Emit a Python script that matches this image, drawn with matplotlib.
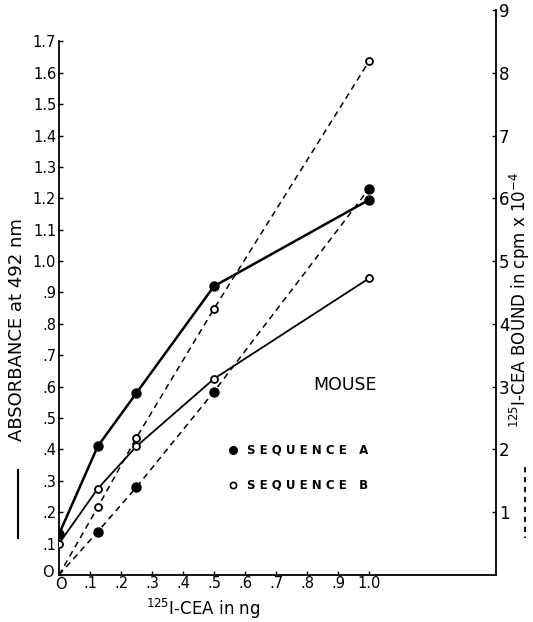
import matplotlib
matplotlib.use("Agg")
import matplotlib.pyplot as plt
import matplotlib.transforms as mtransforms

# x values: ng of 125I-CEA
dose = [0, 0.125, 0.25, 0.5, 1.0]

# absorbance at 492 nm (left axis, solid lines)
abs_seq_a = [0.13, 0.41, 0.58, 0.92, 1.195]
abs_seq_b = [0.10, 0.275, 0.41, 0.625, 0.945]

# cpm bound x 10^-4 (right axis, dashed lines)
cpm_seq_a = [0, 0.69, 1.40, 2.92, 6.15]
cpm_seq_b = [0, 1.08, 2.19, 4.24, 8.18]

left_ticks = [0, 0.1, 0.2, 0.3, 0.4, 0.5, 0.6, 0.7, 0.8, 0.9, 1.0, 1.1, 1.2, 1.3, 1.4, 1.5, 1.6, 1.7]
left_labels = ['O', '.1', '.2', '.3', '.4', '.5', '.6', '.7', '.8', '.9', '1.0', '1.1', '1.2', '1.3', '1.4', '1.5', '1.6', '1.7']
x_ticks = [0, 0.1, 0.2, 0.3, 0.4, 0.5, 0.6, 0.7, 0.8, 0.9, 1.0]
x_labels = ['O', '.1', '.2', '.3', '.4', '.5', '.6', '.7', '.8', '.9', '1.0']
right_ticks = [1, 2, 3, 4, 5, 6, 7, 8, 9]

fig = plt.figure(figsize=(5.33, 6.22), dpi=100)
ax = fig.add_axes([59 / 533, 47 / 622, (496 - 59) / 533, 565 / 622])
ax2 = ax.twinx()

ax.set_xlim(0, 1.41)
ax.set_ylim(0, 1.8)
ax2.set_ylim(0, 9)

# solid: absorbance
ax.plot(dose, abs_seq_a, color='black', lw=1.8, marker='o', ms=6.5, mfc='black', zorder=3)
ax.plot(dose, abs_seq_b, color='black', lw=1.3, marker='o', ms=5, mfc='white', mew=1.3, zorder=3)

# dashed: counts bound
ax2.plot(dose, cpm_seq_a, color='black', lw=1.1, ls=(0, (4, 3)), marker='o', ms=6.5, mfc='black', markevery=[1, 2, 3, 4])
ax2.plot(dose, cpm_seq_b, color='black', lw=1.1, ls=(0, (4, 3)), marker='o', ms=5, mfc='white', mew=1.3, markevery=[1, 2, 3, 4])

for a in (ax, ax2):
    a.spines['top'].set_visible(False)
ax.spines['right'].set_visible(False)
ax2.spines['left'].set_visible(False)
ax2.spines['bottom'].set_visible(False)
ax.spines['left'].set_bounds(0, 1.7)
for s in ('left', 'bottom'):
    ax.spines[s].set_linewidth(1.3)
ax2.spines['right'].set_linewidth(1.3)

ax.set_yticks(left_ticks)
ax.set_yticklabels(left_labels, fontsize=10.5)
ax.set_xticks(x_ticks)
ax.set_xticklabels(x_labels, fontsize=10.5)
ax.tick_params(direction='in', length=3, width=1, pad=2)
ax.tick_params(axis='x', pad=1)
ax2.set_yticks(right_ticks)
ax2.set_yticklabels([str(t) for t in right_ticks], fontsize=12)
ax2.tick_params(direction='in', length=3, width=1, pad=2)

# nudge the two "O" labels at the origin apart
ylab0 = ax.get_yticklabels()[0]
ylab0.set_transform(ylab0.get_transform() + mtransforms.ScaledTranslation(-2 / 100, 4 / 100, fig.dpi_scale_trans))
xlab0 = ax.get_xticklabels()[0]
xlab0.set_transform(xlab0.get_transform() + mtransforms.ScaledTranslation(2 / 100, -1 / 100, fig.dpi_scale_trans))

# axis titles
fig.text(17 / 533, 1 - 330 / 622, 'ABSORBANCE at 492 nm', rotation=90, fontsize=13,
         ha='center', va='center')
fig.add_artist(plt.Line2D([18 / 533, 18 / 533], [1 - 470 / 622, 1 - 538 / 622], color='black', lw=1.5))
fig.text(520 / 533, 1 - 300 / 622, r'$^{125}$I-CEA BOUND in cpm x 10$^{-4}$', rotation=90,
         fontsize=12, ha='center', va='center')
fig.add_artist(plt.Line2D([525 / 533, 525 / 533], [1 - 467 / 622, 1 - 538 / 622], color='black',
                          lw=1.3, ls=(0, (3, 2.5))))
fig.text(203 / 533, 1 - 609 / 622, r'$^{125}$I-CEA in ng', fontsize=12, ha='center', va='center')

# annotations
fig.text(345 / 533, 1 - 385 / 622, 'MOUSE', fontsize=12.5, ha='center', va='center')
fig.text(247 / 533, 1 - 450 / 622, 'S E Q U E N C E   A', fontsize=8.5, fontweight='bold',
         ha='left', va='center')
fig.text(247 / 533, 1 - 485 / 622, 'S E Q U E N C E   B', fontsize=8.5, fontweight='bold',
         ha='left', va='center')
fig.add_artist(plt.Line2D([233 / 533], [1 - 450 / 622], marker='o', ms=5.5, color='black', mfc='black'))
fig.add_artist(plt.Line2D([233 / 533], [1 - 485 / 622], marker='o', ms=4.5, color='black', mfc='white', mew=1.2))

fig.savefig('out.png', dpi=100)
